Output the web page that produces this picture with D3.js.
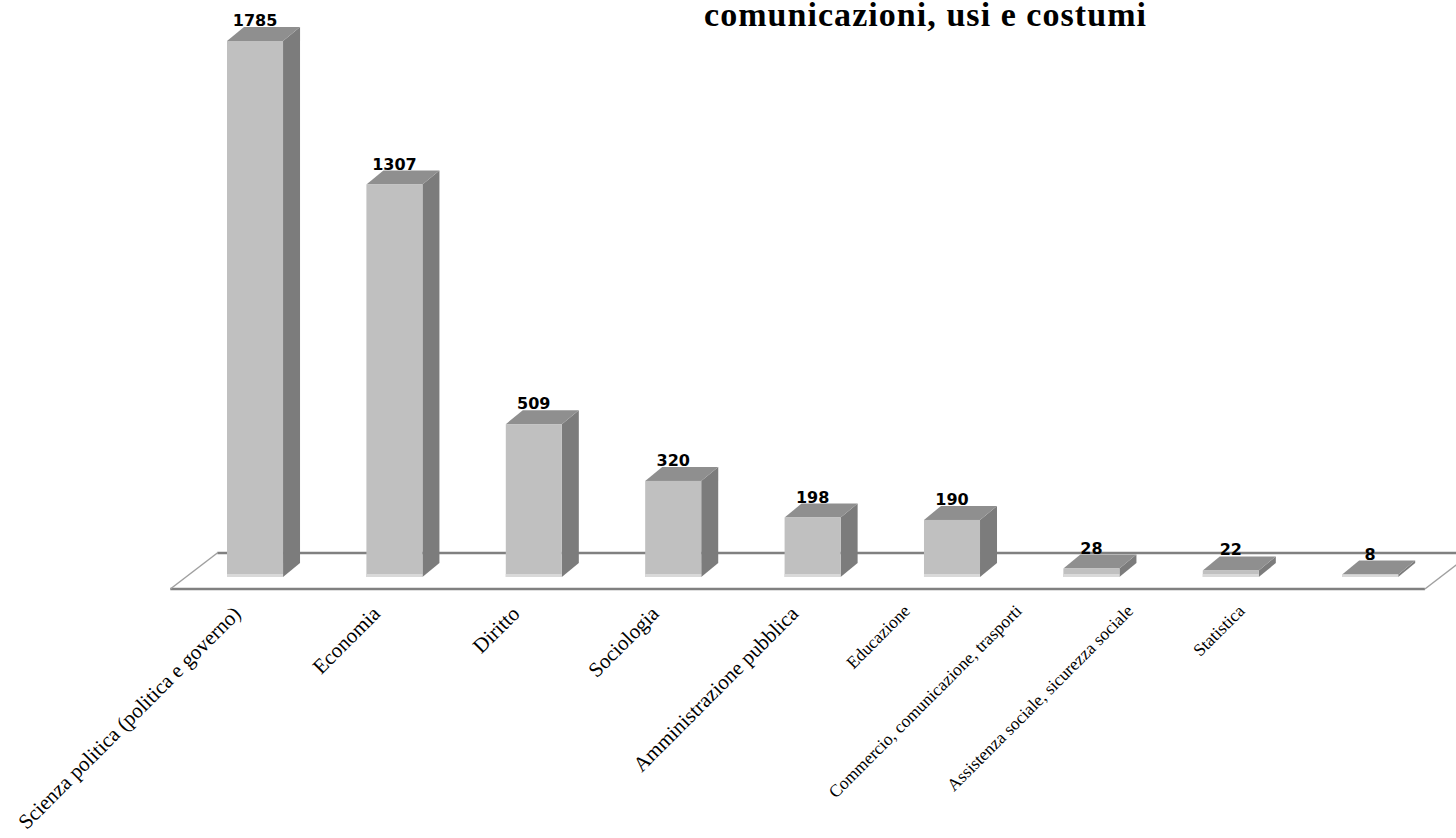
<!DOCTYPE html>
<html>
<head>
<meta charset="utf-8">
<script src="https://cdn.jsdelivr.net/npm/d3@7"></script>
<style>
  html, body { margin: 0; padding: 0; background: #ffffff; }
  svg { display: block; }
</style>
</head>
<body>
<svg id="chart" width="1456" height="838"></svg>
<script>
// Categories and counts
const categories = [
  "Scienza politica (politica e governo)",
  "Economia",
  "Diritto",
  "Sociologia",
  "Amministrazione pubblica",
  "Educazione",
  "Commercio, comunicazione, trasporti",
  "Assistenza sociale, sicurezza sociale",
  "Statistica"
];
const counts = [1785, 1307, 509, 320, 198, 190, 28, 22, 8];
const titleText = "comunicazioni, usi e costumi";

const svg = d3.select("#chart");

// Scales
const x = d3.scaleBand()
  .domain(categories)
  .range([157.3, 1467.9])
  .paddingInner(0.598)
  .paddingOuter(0.5);

const y = d3.scaleLinear()
  .domain([0, 1785])
  .range([577, 41]);

// 3D offsets
const depth = { dx: 17, dy: -14 };
const floorDepth = { dx: 47, dy: -36 };

const colors = {
  front: "#c0c0c0",
  frontBase: "#d9d9d9",
  side: "#7c7c7c",
  top: "#8f8f8f",
  floor: "#808080"
};

// Floor plane
const floorFrontY = y(0) + 12;
const floorBackY = floorFrontY + floorDepth.dy;
const floorLeft = x.range()[0] + 13;
const floorRight = x.range()[1] - 43;

const floor = svg.append("g").attr("class", "floor");
floor.append("path")
  .attr("d", `M${floorLeft},${floorFrontY} L${floorLeft + floorDepth.dx},${floorBackY} L${floorRight + floorDepth.dx},${floorBackY} L${floorRight},${floorFrontY} Z`)
  .attr("fill", "#ffffff")
  .attr("stroke", "none");
floor.append("line")
  .attr("x1", floorLeft + floorDepth.dx).attr("y1", floorBackY)
  .attr("x2", floorRight + floorDepth.dx).attr("y2", floorBackY)
  .attr("stroke", colors.floor).attr("stroke-width", 2.5);
floor.append("line")
  .attr("x1", floorLeft).attr("y1", floorFrontY)
  .attr("x2", floorRight).attr("y2", floorFrontY)
  .attr("stroke", colors.floor).attr("stroke-width", 2.5);
floor.append("line")
  .attr("x1", floorLeft).attr("y1", floorFrontY)
  .attr("x2", floorLeft + floorDepth.dx).attr("y2", floorBackY)
  .attr("stroke", "#a0a0a0").attr("stroke-width", 1.5);
floor.append("line")
  .attr("x1", floorRight).attr("y1", floorFrontY)
  .attr("x2", floorRight + floorDepth.dx).attr("y2", floorBackY)
  .attr("stroke", "#a0a0a0").attr("stroke-width", 1.5);

// Bars
const data = categories.map((c, i) => ({ cat: c, value: counts[i], i }));
const bw = x.bandwidth();

const bars = svg.append("g").attr("class", "bars")
  .selectAll("g").data(data).join("g");

// side face
bars.append("path")
  .attr("fill", colors.side)
  .attr("d", d => {
    const x1 = x(d.cat) + bw, yt = y(d.value), yb = y(0);
    return `M${x1},${yt} L${x1 + depth.dx},${yt + depth.dy} L${x1 + depth.dx},${yb + depth.dy} L${x1},${yb} Z`;
  });
// top face
bars.append("path")
  .attr("fill", colors.top)
  .attr("d", d => {
    const x0 = x(d.cat), x1 = x0 + bw, yt = y(d.value);
    return `M${x0},${yt} L${x0 + depth.dx},${yt + depth.dy} L${x1 + depth.dx},${yt + depth.dy} L${x1},${yt} Z`;
  });
// front face
bars.append("rect")
  .attr("fill", colors.front)
  .attr("x", d => x(d.cat))
  .attr("y", d => y(d.value))
  .attr("width", bw)
  .attr("height", d => y(0) - y(d.value));
// light base strip on the front face
bars.append("rect")
  .attr("fill", colors.frontBase)
  .attr("x", d => x(d.cat))
  .attr("y", d => y(0) - Math.min(3, y(0) - y(d.value)))
  .attr("width", bw)
  .attr("height", d => Math.min(3, y(0) - y(d.value)));

// Value labels
svg.append("g").attr("class", "values")
  .selectAll("text").data(data).join("text")
  .attr("x", d => x(d.cat) + bw / 2)
  .attr("y", d => y(d.value) + depth.dy - 1)
  .attr("text-anchor", "middle")
  .attr("font-family", "'DejaVu Sans', sans-serif")
  .attr("font-weight", "bold")
  .attr("font-size", 16)
  .attr("fill", "#000")
  .text(d => d.value);

// Category labels, rotated; the later ones are set smaller on a tighter pitch
const labelStep = x.step();
const labelX = i => {
  const base = x(categories[0]) + bw / 2 - 13;
  return i <= 4 ? base + i * labelStep : base + 4 * labelStep + (i - 4) * labelStep * 0.8;
};
const labelY = i => floorFrontY + (i <= 4 ? 26 : 23);
const labelSize = i => (i <= 4 ? 21 : 17.5);

svg.append("g").attr("class", "categories")
  .selectAll("text").data(data).join("text")
  .attr("transform", d => `translate(${labelX(d.i)},${labelY(d.i)}) rotate(-45)`)
  .attr("text-anchor", "end")
  .attr("font-family", "'Liberation Serif', 'Times New Roman', serif")
  .attr("font-size", d => labelSize(d.i))
  .attr("fill", "#000")
  .text(d => d.cat);

// Title (second line visible at top)
svg.append("text")
  .attr("x", 925)
  .attr("y", 26)
  .attr("text-anchor", "middle")
  .attr("font-family", "'Liberation Serif', 'Times New Roman', serif")
  .attr("font-weight", "bold")
  .attr("font-size", 34)
  .attr("textLength", 442)
  .attr("lengthAdjust", "spacing")
  .attr("fill", "#000")
  .text(titleText);
</script>
</body>
</html>
